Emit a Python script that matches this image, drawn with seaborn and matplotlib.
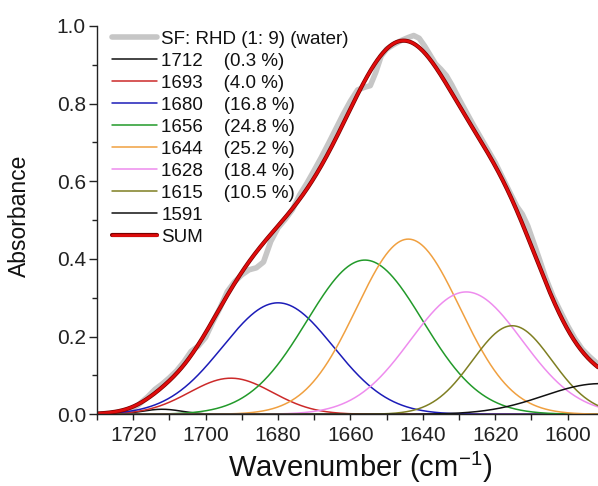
import numpy as np
import pandas as pd
import matplotlib
matplotlib.use("Agg")
import matplotlib.pyplot as plt
import matplotlib.patheffects as pe
from matplotlib.ticker import MultipleLocator, FormatStrFormatter
import seaborn as sns

# ---- data ----
# Measured spectrum (grey): wavenumber, absorbance
meas_wn = [1730, 1727, 1724, 1721, 1718.5, 1716, 1714, 1712, 1710, 1708, 1706, 1704,
           1702, 1700, 1698, 1696, 1694, 1692, 1690, 1688, 1686, 1684, 1682, 1680,
           1678, 1676, 1674, 1672, 1670, 1668, 1666, 1664, 1662, 1660, 1658, 1656,
           1654.5, 1653, 1651.5, 1650, 1648, 1646, 1644, 1642.5, 1641, 1639.5, 1638,
           1636.5, 1635, 1633.5, 1632, 1630, 1628, 1626, 1624, 1622, 1620, 1618, 1616,
           1614, 1612.5, 1611, 1609.5, 1608, 1606, 1604, 1602, 1600, 1598, 1596, 1594,
           1591.5]
meas_abs = [0.000, 0.001, 0.004, 0.010, 0.025, 0.045, 0.064, 0.078, 0.094, 0.112, 0.135, 0.162,
            0.176, 0.198, 0.238, 0.274, 0.316, 0.341, 0.359, 0.372, 0.377, 0.392, 0.445, 0.480,
            0.502, 0.527, 0.565, 0.595, 0.628, 0.662, 0.698, 0.735, 0.772, 0.806, 0.835, 0.842,
            0.846, 0.880, 0.922, 0.940, 0.952, 0.962, 0.970, 0.975, 0.968, 0.948, 0.925,
            0.902, 0.888, 0.872, 0.848, 0.812, 0.778, 0.744, 0.712, 0.680, 0.648, 0.610, 0.572,
            0.535, 0.515, 0.485, 0.445, 0.405, 0.350, 0.303, 0.265, 0.228, 0.195, 0.168, 0.149,
            0.128]

# Fitted Gaussian components: centre, height, width (sigma)
peak_centre = [1712, 1693, 1680, 1656, 1644, 1628, 1615.3, 1591]
peak_height = [0.013, 0.093, 0.287, 0.397, 0.451, 0.315, 0.228, 0.079]
peak_sigma = [5.5, 11.5, 15.3, 16.0, 14.3, 15.4, 11.0, 15.5]
peak_pct = ["0.3", "4.0", "16.8", "24.8", "25.2", "18.4", "10.5", None]
peak_colors = ["#111111", "#cc2a2a", "#1c1cb8", "#229a2a", "#f0a040",
               "#ee8cee", "#7f7f22", "#111111"]

meas_label = "SF: RHD (1: 9) (water)"
sum_label = "SUM"
x_ticks = [1720, 1700, 1680, 1660, 1640, 1620, 1600]
y_ticks = [0.0, 0.2, 0.4, 0.6, 0.8, 1.0]

# ---- style ----
sns.set_style("ticks")
plt.rcParams["font.family"] = ["Liberation Sans", "DejaVu Sans"]
plt.rcParams["mathtext.fontset"] = "custom"
plt.rcParams["mathtext.rm"] = "Liberation Sans"
plt.rcParams["mathtext.it"] = "Liberation Sans:italic"
plt.rcParams["mathtext.bf"] = "Liberation Sans:bold"

fig = plt.figure(figsize=(5.98, 4.86), dpi=100)
ax = fig.add_axes([0.1622, 0.1475, 0.8378, 0.7994])

grid = np.linspace(1730, 1591.6, 700)
comps = []
for c, h, s in zip(peak_centre, peak_height, peak_sigma):
    comps.append(h * np.exp(-((grid - c) ** 2) / (2 * s ** 2)))
total = np.sum(comps, axis=0)

sns.lineplot(x=meas_wn, y=meas_abs, ax=ax, color="#c6c6c6", lw=4.0,
             sort=False, label=meas_label, solid_capstyle="round")
for c, pct, col, yv in zip(peak_centre, peak_pct, peak_colors, comps):
    lab = f"{c:.0f}    ({pct} %)" if pct else f"{c:.0f}"
    sns.lineplot(x=grid, y=yv, ax=ax, color=col, lw=1.1, sort=False, label=lab)
sns.lineplot(x=grid, y=total, ax=ax, color="#e00c0c", lw=2.0, sort=False,
             label=sum_label,
             path_effects=[pe.Stroke(linewidth=3.0, foreground="#7a0000"), pe.Normal()])

ax.set_xlim(1730, 1591.6)
ax.set_ylim(0, 1.0)
ax.set_xticks(x_ticks)
ax.set_yticks(y_ticks)
ax.xaxis.set_minor_locator(MultipleLocator(10))
ax.yaxis.set_minor_locator(MultipleLocator(0.1))
ax.yaxis.set_major_formatter(FormatStrFormatter("%.1f"))
ax.tick_params(axis="both", which="major", labelsize=15, direction="out",
               width=1.0, color="#222222", labelcolor="#222222")
ax.tick_params(axis="x", which="major", length=4.5, pad=4)
ax.tick_params(axis="x", which="minor", length=4.5, width=1.0, color="#222222")
ax.tick_params(axis="y", which="major", length=6, pad=2)
ax.tick_params(axis="y", which="minor", length=3.8, width=1.0, color="#222222")
for sp in ["top", "right"]:
    ax.spines[sp].set_visible(False)
for sp in ["left", "bottom"]:
    ax.spines[sp].set_linewidth(1.0)
    ax.spines[sp].set_color("#222222")

ax.set_xlabel(r"Wavenumber (cm$^{-1}$)", fontsize=21, color="#111111")
ax.xaxis.set_label_coords(0.525, -0.092)
ax.set_ylabel("Absorbance", fontsize=16.5, color="#111111")
ax.yaxis.set_label_coords(-0.132, 0.51)

leg = ax.legend(loc="upper left", bbox_to_anchor=(0.029, 0.987), frameon=False,
                fontsize=13.5, handlelength=2.4, handletextpad=0.25,
                labelspacing=0.26, borderaxespad=0, borderpad=0)
for t in leg.get_texts():
    t.set_color("#111111")

fig.savefig("out.png", dpi=100)
